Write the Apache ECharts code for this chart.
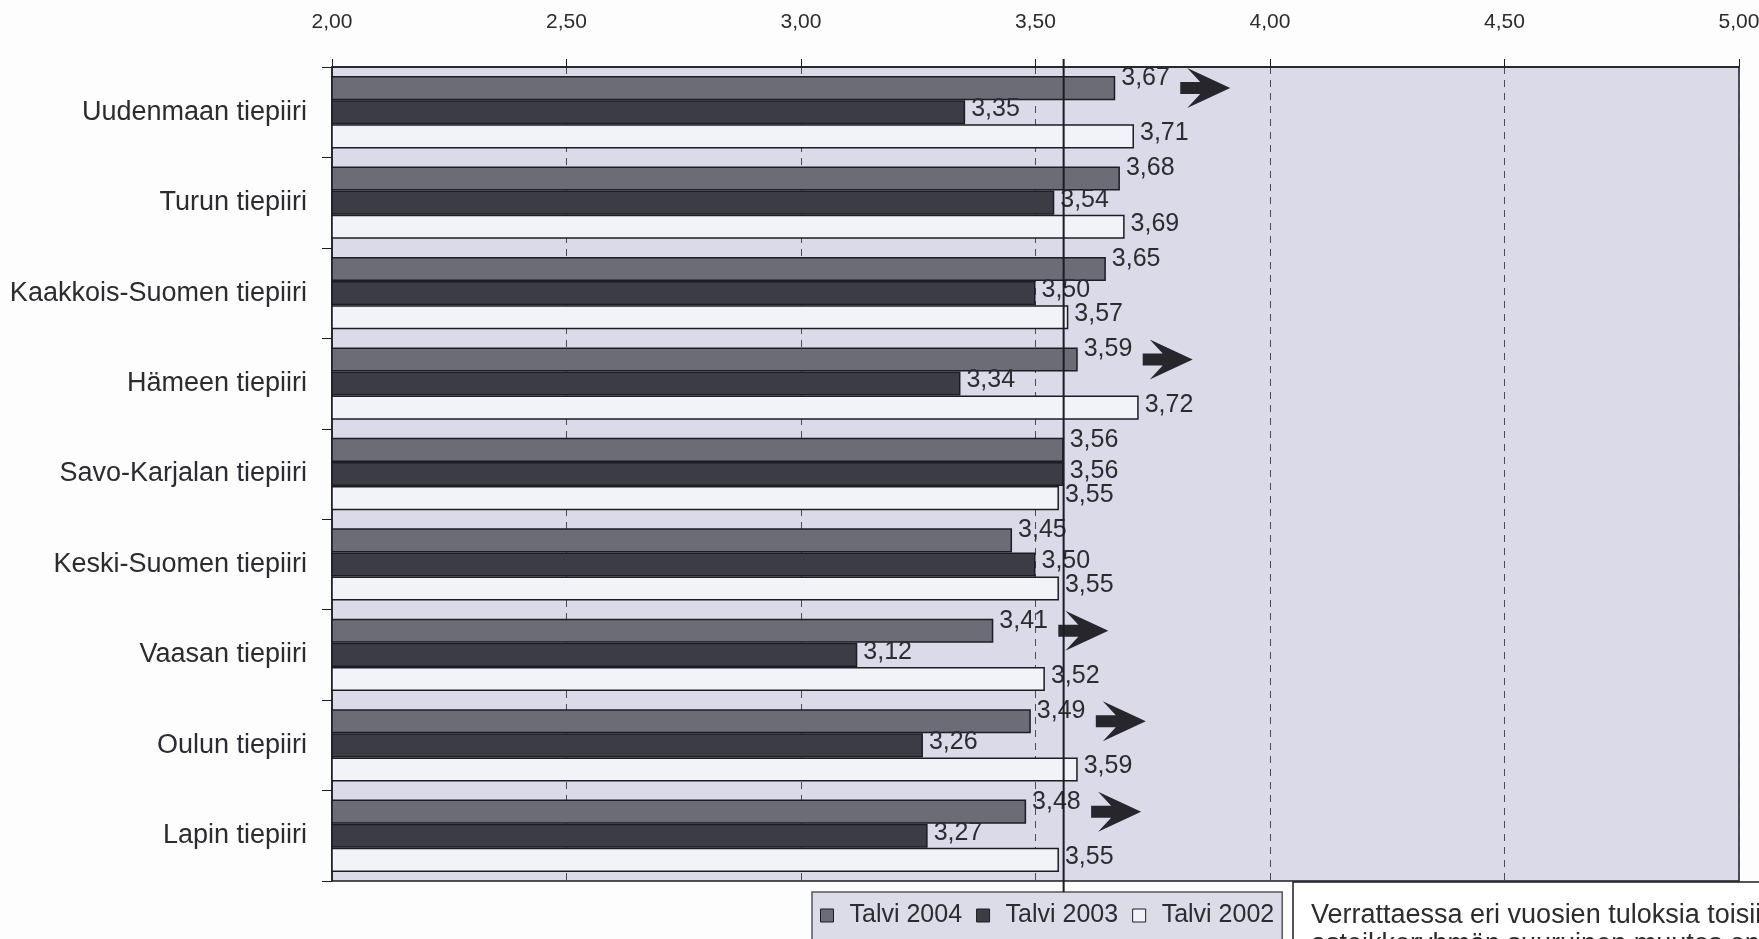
<!DOCTYPE html>
<html><head><meta charset="utf-8">
<script src="https://cdn.jsdelivr.net/npm/echarts@6/dist/echarts.min.js"></script>
<style>html,body{margin:0;padding:0;background:#fdfdfe;} #c{width:1759px;height:939px;}</style>
</head><body><div id="c"></div>
<script>
// ---- data ----
const categories = ['Uudenmaan tiepiiri','Turun tiepiiri','Kaakkois-Suomen tiepiiri','Hämeen tiepiiri','Savo-Karjalan tiepiiri','Keski-Suomen tiepiiri','Vaasan tiepiiri','Oulun tiepiiri','Lapin tiepiiri'];
const seriesNames = ['Talvi 2004','Talvi 2003','Talvi 2002'];
const talvi2004 = [3.67,3.68,3.65,3.59,3.56,3.45,3.41,3.49,3.48];
const talvi2003 = [3.35,3.54,3.50,3.34,3.56,3.50,3.12,3.26,3.27];
const talvi2002 = [3.71,3.69,3.57,3.72,3.55,3.55,3.52,3.59,3.55];
const changeArrow = [1,0,0,1,0,0,1,1,1];
const referenceValue = 3.56;
const axisMin = 2.0, axisMax = 5.0, axisStep = 0.5;
const noteLines = ['Verrattaessa eri vuosien tuloksia toisiinsa', 'asteikkoryhmän suuruinen muutos on'];

// ---- styles ----
const FONT = "'Liberation Sans',Arial,sans-serif";
const TXT = '#2b2b30';
const BORDER = '#1c1c24';
const colors = ['#6c6c76', '#3c3c44', '#f2f2f9'];
const fmt = v => v.toFixed(2).replace('.', ',');

const GRID = {left: 332, top: 67, width: 1407, height: 814};
const catGapPct = 20;
const bandW = GRID.height / categories.length;
const barW = bandW * (1 - catGapPct / 100) / 3;

const chart = echarts.init(document.getElementById('c'), null, {renderer: 'canvas'});

function barSeries(name, data, color, labelOffsetY) {
  return {
    name, type: 'bar', data,
    barGap: '0%', barCategoryGap: catGapPct + '%',
    itemStyle: {color, borderColor: BORDER, borderWidth: 1.5},
    label: {show: true, position: 'right', distance: 6, offset: [0, labelOffsetY],
      formatter: p => fmt(p.value), fontFamily: FONT, fontSize: 25, color: TXT},
    emphasis: {disabled: true}
  };
}

const arrowData = [];
changeArrow.forEach((f, i) => { if (f) arrowData.push([talvi2004[i], categories[i]]); });

const option = {
  animation: false,
  backgroundColor: '#fdfdfe',
  grid: Object.assign({show: true, containLabel: false, outerBoundsMode: 'none',
    backgroundColor: '#dadae8', borderColor: BORDER, borderWidth: 1.5}, GRID),
  legend: {
    data: seriesNames, left: 812, top: 892, orient: 'horizontal',
    backgroundColor: '#dcdce8', borderColor: '#55555c', borderWidth: 1.5,
    padding: [11, 8, 22, 8], itemGap: 14, itemWidth: 13, itemHeight: 13,
    icon: 'rect',
    itemStyle: {borderColor: BORDER, borderWidth: 1},
    textStyle: {fontFamily: FONT, fontSize: 25, color: TXT, padding: [0, 0, 0, 11]}
  },
  xAxis: {
    type: 'value', position: 'top', min: axisMin, max: axisMax, interval: axisStep,
    axisLine: {show: true, lineStyle: {color: BORDER, width: 1.5}},
    axisTick: {show: true, length: 8, lineStyle: {color: BORDER}},
    axisLabel: {formatter: v => fmt(v), fontFamily: FONT, fontSize: 21, color: TXT, margin: 34},
    splitLine: {show: true, lineStyle: {color: '#4a4a55', type: [7, 6], width: 1}}
  },
  yAxis: {
    type: 'category', data: categories, inverse: true,
    axisLine: {show: true, lineStyle: {color: BORDER, width: 1.5}},
    axisTick: {show: true, length: 10, lineStyle: {color: BORDER}},
    axisLabel: {fontFamily: FONT, fontSize: 27, color: TXT, margin: 25},
    splitLine: {show: false}
  },
  series: [
    barSeries(seriesNames[0], talvi2004, colors[0], -10),
    barSeries(seriesNames[1], talvi2003, colors[1], -3),
    barSeries(seriesNames[2], talvi2002, colors[2], -3),
    {
      type: 'scatter', data: arrowData, silent: true, z: 5,
      symbol: 'path://M0,14 L20,14 L7,0 L50,20 L7,40 L20,26 L0,26 Z',
      symbolSize: [50, 40], symbolOffset: [90, -barW],
      itemStyle: {color: '#26262c', opacity: 1}
    }
  ]
};
chart.setOption(option);

// reference line & note box (annotations)
const refX = chart.convertToPixel({xAxisIndex: 0}, referenceValue);
chart.setOption({
  graphic: [
    {type: 'line', z: 100, shape: {x1: refX, y1: GRID.top - 8, x2: refX, y2: 892},
      style: {stroke: BORDER, lineWidth: 2}},
    {type: 'rect', z: 100, shape: {x: 1293, y: 882, width: 490, height: 80},
      style: {fill: '#ffffff', stroke: BORDER, lineWidth: 1.5}},
    {type: 'text', z: 101, left: 1311, top: 902,
      style: {text: noteLines[0], font: '27px ' + FONT, fill: TXT}},
    {type: 'text', z: 101, left: 1311, top: 931,
      style: {text: noteLines[1], font: '27px ' + FONT, fill: TXT}}
  ]
});
</script>
</body></html>
